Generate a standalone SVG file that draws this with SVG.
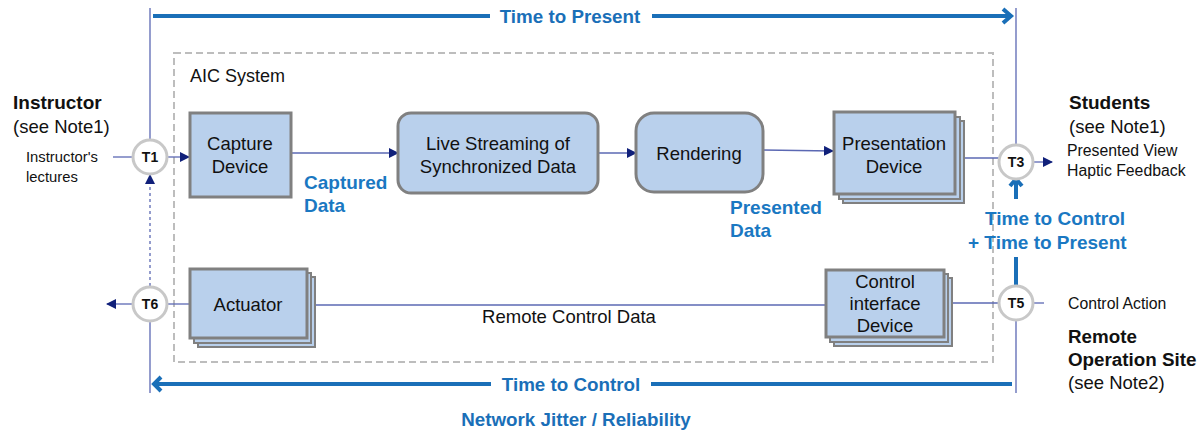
<svg xmlns="http://www.w3.org/2000/svg" width="1201" height="431" viewBox="0 0 1201 431">
<style>
  .box{fill:#b9d0ec;stroke:#808080;stroke-width:3}
  .back{fill:#b9d0ec;stroke:#808080;stroke-width:2}
  .lbl{font-family:"Liberation Sans",Arial,sans-serif;font-size:18.5px;fill:#111;text-anchor:middle}
  .t{font-family:"Liberation Sans",Arial,sans-serif;font-size:14px;font-weight:bold;fill:#111;text-anchor:middle}
  .tc{fill:#fff;stroke:#c8c8c8;stroke-width:3}
  .conn{stroke:#5b68b3;stroke-width:1.3;fill:none}
  .blue{font-family:"Liberation Sans",Arial,sans-serif;font-size:19px;font-weight:bold;fill:#1a78c2}
  .big{font-family:"Liberation Sans",Arial,sans-serif;font-size:18.8px;font-weight:bold;fill:#1a6fb8;text-anchor:middle}
  .side{font-family:"Liberation Sans",Arial,sans-serif;fill:#111}
  .tb{stroke:#1a6fb8;stroke-width:4;fill:none}
</style>
<defs>
  <marker id="ah" markerWidth="10" markerHeight="10" refX="9" refY="5" orient="auto" markerUnits="userSpaceOnUse">
    <path d="M0,0 L10,5 L0,10 Z" fill="#10207a"/>
  </marker>
</defs>
<rect width="1201" height="431" fill="#fff"/>

<!-- system boundary -->
<rect x="174" y="53" width="819" height="309" fill="none" stroke="#bdbdbd" stroke-width="2" stroke-dasharray="7,4"/>
<text x="190" y="82" class="side" font-size="18">AIC System</text>

<g id="connectors">
  <line x1="150" y1="8" x2="150" y2="140" class="conn"/>
  <line x1="150" y1="320" x2="150" y2="393" class="conn"/>
  <line x1="1016" y1="8" x2="1016" y2="145" class="conn"/>
  <line x1="1016" y1="320" x2="1016" y2="393" class="conn"/>
  <line x1="113" y1="157" x2="133" y2="157" class="conn"/>
  <line x1="167" y1="157" x2="189" y2="157" class="conn" marker-end="url(#ah)"/>
  <line x1="291" y1="153" x2="398" y2="153" class="conn" marker-end="url(#ah)"/>
  <line x1="598" y1="153" x2="636" y2="153" class="conn" marker-end="url(#ah)"/>
  <line x1="763" y1="150" x2="833" y2="151" class="conn" marker-end="url(#ah)"/>
  <line x1="956" y1="158" x2="999" y2="158" class="conn"/>
  <line x1="1033" y1="162" x2="1052" y2="162" class="conn" marker-end="url(#ah)"/>
  <line x1="1033" y1="303" x2="1044" y2="303" class="conn"/>
  <line x1="999" y1="303" x2="944" y2="303" class="conn" marker-end="url(#ah)"/>
  <line x1="826" y1="305" x2="306" y2="305" class="conn" marker-end="url(#ah)"/>
  <line x1="190" y1="304" x2="167" y2="304" class="conn"/>
  <line x1="133" y1="304" x2="107" y2="304" class="conn" marker-end="url(#ah)"/>
  <line x1="150" y1="286" x2="150" y2="175" class="conn" stroke-dasharray="3,3" marker-end="url(#ah)"/>
  <line x1="153" y1="16" x2="490" y2="16" class="tb"/>
  <line x1="652" y1="16" x2="1010" y2="16" class="tb"/>
  <polyline points="1003,9 1011,16 1003,23" class="tb"/>
  <line x1="156" y1="384" x2="491" y2="384" class="tb"/>
  <line x1="651" y1="384" x2="1012" y2="384" class="tb"/>
  <polyline points="161,377 154,384 161,391" class="tb"/>
  <line x1="1016" y1="199" x2="1016" y2="182" class="tb"/>
  <polyline points="1010,186 1016,179 1022,186" class="tb"/>
  <line x1="1016" y1="257" x2="1016" y2="286" class="tb"/>
</g>

<text x="570" y="23" class="big">Time to Present</text>
<text x="571" y="391" class="big">Time to Control</text>
<text x="576" y="426" class="big">Network Jitter / Reliability</text>

<g id="capture">
  <rect x="190" y="113" width="101" height="84" class="box"/>
  <text x="240" y="150" class="lbl">Capture</text>
  <text x="240" y="173" class="lbl">Device</text>
</g>
<g id="streaming">
  <rect x="398" y="113" width="200" height="80" rx="13" class="box"/>
  <text x="498" y="150" class="lbl">Live Streaming of</text>
  <text x="498" y="173" class="lbl">Synchronized Data</text>
</g>
<g id="rendering">
  <rect x="636" y="113" width="127" height="79" rx="18" class="box"/>
  <text x="699" y="160" class="lbl">Rendering</text>
</g>
<g id="presentation">
  <rect x="843" y="121" width="121" height="82" class="back"/>
  <rect x="839" y="117" width="121" height="82" class="back"/>
  <rect x="834" y="112" width="121" height="82" class="box"/>
  <text x="894" y="150" class="lbl">Presentation</text>
  <text x="894" y="173" class="lbl">Device</text>
</g>
<g id="actuator">
  <rect x="198" y="277" width="117" height="70" class="back"/>
  <rect x="194" y="273" width="117" height="70" class="back"/>
  <rect x="190" y="269" width="117" height="69" class="box"/>
  <text x="248" y="311" class="lbl">Actuator</text>
</g>
<g id="control">
  <rect x="834" y="278" width="118" height="68" class="back"/>
  <rect x="830" y="274" width="118" height="68" class="back"/>
  <rect x="826" y="270" width="118" height="67" class="box"/>
  <text x="885" y="288" class="lbl" font-size="17.5">Control</text>
  <text x="885" y="310" class="lbl" font-size="17.5">interface</text>
  <text x="885" y="332" class="lbl" font-size="17.5">Device</text>
</g>

<g id="T1"><circle cx="150" cy="157" r="17" class="tc"/><text x="150" y="162" class="t">T1</text></g>
<g id="T3"><circle cx="1016" cy="162" r="17" class="tc"/><text x="1016" y="167" class="t">T3</text></g>
<g id="T5"><circle cx="1016" cy="303" r="17" class="tc"/><text x="1016" y="308" class="t">T5</text></g>
<g id="T6"><circle cx="150" cy="304" r="17" class="tc"/><text x="150" y="309" class="t">T6</text></g>

<g id="labels">
  <text x="304" y="189" class="blue">Captured</text>
  <text x="304" y="212" class="blue">Data</text>
  <text x="730" y="214" class="blue">Presented</text>
  <text x="730" y="237" class="blue">Data</text>
  <text x="985" y="225" class="blue">Time to Control</text>
  <text x="968" y="249" class="blue">+ Time to Present</text>
  <text x="569" y="323" class="lbl" font-size="17.3">Remote Control Data</text>
</g>

<g id="instructor">
  <text x="13" y="109" class="side" font-size="19" font-weight="bold">Instructor</text>
  <text x="13" y="133" class="side" font-size="18.5">(see Note1)</text>
  <text x="26" y="162" class="side" font-size="14.8">Instructor's</text>
  <text x="26" y="182" class="side" font-size="14.8">lectures</text>
</g>
<g id="students">
  <text x="1069" y="109" class="side" font-size="19" font-weight="bold">Students</text>
  <text x="1069" y="133" class="side" font-size="18.5">(see Note1)</text>
  <text x="1067" y="156" class="side" font-size="15.8">Presented View</text>
  <text x="1067" y="176" class="side" font-size="15.8">Haptic Feedback</text>
</g>
<g id="remote">
  <text x="1068" y="309" class="side" font-size="15.8">Control Action</text>
  <text x="1068" y="343" class="side" font-size="18.8" font-weight="bold">Remote</text>
  <text x="1068" y="366" class="side" font-size="18.8" font-weight="bold">Operation Site</text>
  <text x="1068" y="389" class="side" font-size="18.5">(see Note2)</text>
</g>
</svg>
